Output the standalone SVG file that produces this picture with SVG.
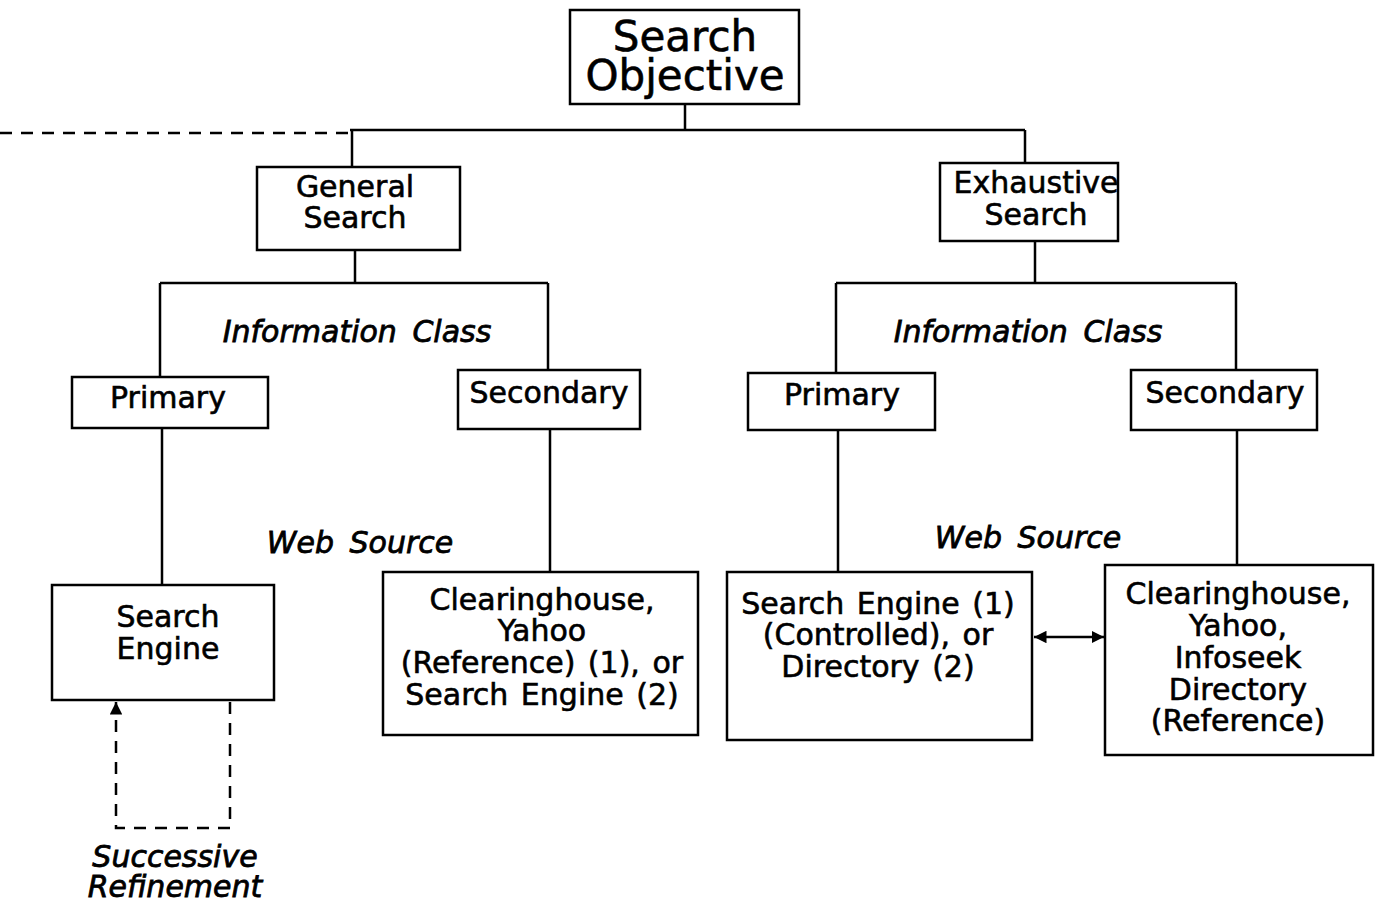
<svg xmlns="http://www.w3.org/2000/svg" width="1379" height="905" viewBox="0 0 1379 905">
<style>
.box{fill:#fff;stroke:#000;stroke-width:2.5}
.ln{fill:none;stroke:#000;stroke-width:2.5}
.dash{fill:none;stroke:#000;stroke-width:2.5;stroke-dasharray:12 9}
text{font-family:"DejaVu Sans","Liberation Sans",sans-serif;fill:#000;stroke:#000;stroke-width:0.6;text-anchor:middle}
.t{font-size:30px;word-spacing:3px}
.big{font-size:42px}
.it{font-size:30px;font-style:italic;word-spacing:6px;stroke-width:0.8}
</style>
<defs>
<marker id="ah" viewBox="0 0 10 10" refX="10" refY="5" markerWidth="5" markerHeight="5" orient="auto-start-reverse" markerUnits="strokeWidth">
<path d="M0,0 L10,5 L0,10 z" fill="#000"/>
</marker>
</defs>
<g id="connectors">
<path class="ln" d="M685,104 V130 M350,130 H1025 M352,130 V167 M1025,130 V163"/>
<path class="dash" d="M0,133 H350" stroke-dasharray="10 8"/>
<path class="ln" d="M355,250 V283 M160,283 H548 M160,283 V377 M548,283 V370"/>
<path class="ln" d="M162,428 V585 M550,429 V572"/>
<path class="ln" d="M1035,241 V283 M836,283 H1236 M836,283 V373 M1236,283 V370"/>
<path class="ln" d="M838,430 V572 M1237,430 V565"/>
<path class="ln" d="M1034,637 H1104" marker-start="url(#ah)" marker-end="url(#ah)"/>
<path class="dash" d="M230,702 V828 H116 V702" stroke-dasharray="14 10" marker-end="url(#ah)"/>
</g>
<g id="search-objective">
<rect class="box" x="570" y="10" width="229" height="94"/>
<text class="big" x="685" y="51">Search</text>
<text class="big" x="685" y="90">Objective</text>
</g>
<g id="general-search">
<rect class="box" x="257" y="167" width="203" height="83"/>
<text class="t" x="355" y="197">General</text>
<text class="t" x="355" y="228">Search</text>
</g>
<g id="exhaustive-search">
<rect class="box" x="940" y="163" width="178" height="78"/>
<text class="t" x="1036" y="193">Exhaustive</text>
<text class="t" x="1036" y="225">Search</text>
</g>
<g id="info-class-left"><text class="it" x="357" y="342">Information Class</text></g>
<g id="info-class-right"><text class="it" x="1028" y="342">Information Class</text></g>
<g id="primary-left">
<rect class="box" x="72" y="377" width="196" height="51"/>
<text class="t" x="168" y="408">Primary</text>
</g>
<g id="secondary-left">
<rect class="box" x="458" y="370" width="182" height="59"/>
<text class="t" x="549" y="403">Secondary</text>
</g>
<g id="primary-right">
<rect class="box" x="748" y="373" width="187" height="57"/>
<text class="t" x="842" y="405">Primary</text>
</g>
<g id="secondary-right">
<rect class="box" x="1131" y="370" width="186" height="60"/>
<text class="t" x="1225" y="403">Secondary</text>
</g>
<g id="web-source-left"><text class="it" x="360" y="553">Web Source</text></g>
<g id="web-source-right"><text class="it" x="1028" y="548">Web Source</text></g>
<g id="search-engine">
<rect class="box" x="52" y="585" width="222" height="115"/>
<text class="t" x="168" y="627">Search</text>
<text class="t" x="168" y="659">Engine</text>
</g>
<g id="clearinghouse-left">
<rect class="box" x="383" y="572" width="315" height="163"/>
<text class="t" x="542" y="610">Clearinghouse,</text>
<text class="t" x="542" y="641">Yahoo</text>
<text class="t" x="542" y="673">(Reference) (1), or</text>
<text class="t" x="542" y="705">Search Engine (2)</text>
</g>
<g id="search-engine-controlled">
<rect class="box" x="727" y="572" width="305" height="168"/>
<text class="t" x="878" y="614">Search Engine (1)</text>
<text class="t" x="878" y="645">(Controlled), or</text>
<text class="t" x="878" y="677">Directory (2)</text>
</g>
<g id="clearinghouse-right">
<rect class="box" x="1105" y="565" width="268" height="190"/>
<text class="t" x="1238" y="604">Clearinghouse,</text>
<text class="t" x="1238" y="636">Yahoo,</text>
<text class="t" x="1238" y="668">Infoseek</text>
<text class="t" x="1238" y="700">Directory</text>
<text class="t" x="1238" y="731">(Reference)</text>
</g>
<g id="successive-refinement">
<text class="it" x="175" y="867">Successive</text>
<text class="it" x="175" y="897">Refinement</text>
</g>
</svg>
